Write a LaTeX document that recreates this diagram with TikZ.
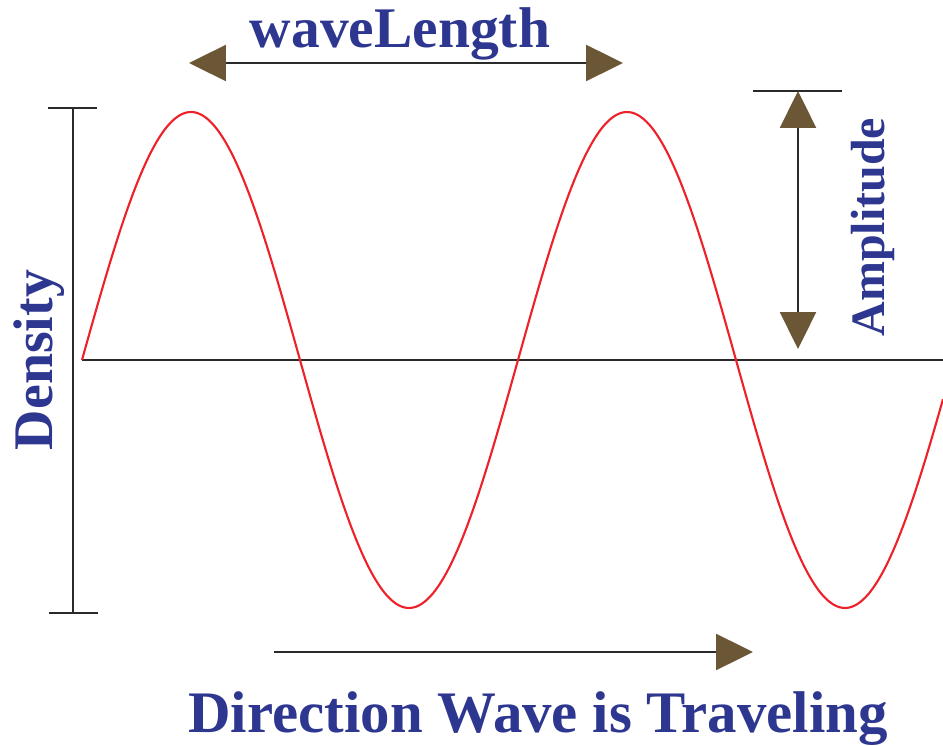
\documentclass[tikz,border=0pt]{standalone}
\usepackage{fontspec}
\setmainfont{Liberation Serif}
\usetikzlibrary{arrows.meta}
\definecolor{labelblue}{HTML}{2E3790}
\definecolor{wavered}{HTML}{EE2129}
\definecolor{tipbrown}{HTML}{6B5736}
\definecolor{linegray}{HTML}{2A2A2A}
\tikzset{
  lbl/.style={font=\bfseries, text=labelblue, inner sep=0pt},
  tipT/.tip={Triangle[length=21pt,width=20.5pt,color=tipbrown]},
  arrowline/.style={draw=linegray, line width=1.1pt},
  thinline/.style={draw=linegray, line width=1.1pt},
}
\begin{document}
\begin{tikzpicture}[x=0.02cm,y=-0.02cm]
\useasboundingbox (0,0) rectangle (943,746);
% density axis
\coordinate (vt) at (73,108);
\coordinate (vb) at (73,613);
\draw[thinline] (vt) -- (vb);
\draw[thinline] (48,108) -- (97,108);
\draw[thinline] (49,613) -- (98,613);
% horizontal axis
\coordinate (ha) at (82,360);
\coordinate (hb) at (943,360);
\draw[draw=linegray, line width=1.6pt] (ha) -- (hb);
% wave
\draw[wavered, line width=1.2pt] plot[domain=82:943, samples=300, smooth] (\x,{360-248*sin(((\x-82)/218)*180)});
% wavelength arrow
\coordinate (wl) at (189,63);
\coordinate (wr) at (623,63);
\draw[arrowline, tipT-tipT] (wl) -- (wr);
\node[lbl, font=\fontsize{32.7pt}{36pt}\selectfont\bfseries, anchor=base] (wavelength) at (400,48) {waveLength};
% amplitude
\coordinate (at) at (798,91);
\coordinate (ab) at (798,349);
\draw[thinline] (753,91) -- (842,91);
\draw[arrowline, tipT-tipT] (at) -- (ab);
\node[lbl, font=\fontsize{27.3pt}{30pt}\selectfont\bfseries, rotate=90, anchor=base] (amplitude) at (884,227) {Amplitude};
% density label
\node[lbl, font=\fontsize{31.8pt}{36pt}\selectfont\bfseries, rotate=90, anchor=base] (density) at (52,360) {Density};
% direction arrow
\coordinate (dl) at (274,652);
\coordinate (dr) at (753,652);
\draw[arrowline, -tipT] (dl) -- (dr);
\node[lbl, font=\fontsize{33.5pt}{36pt}\selectfont\bfseries, anchor=base] (direction) at (538,732) {Direction Wave is Traveling};
\end{tikzpicture}
\end{document}
